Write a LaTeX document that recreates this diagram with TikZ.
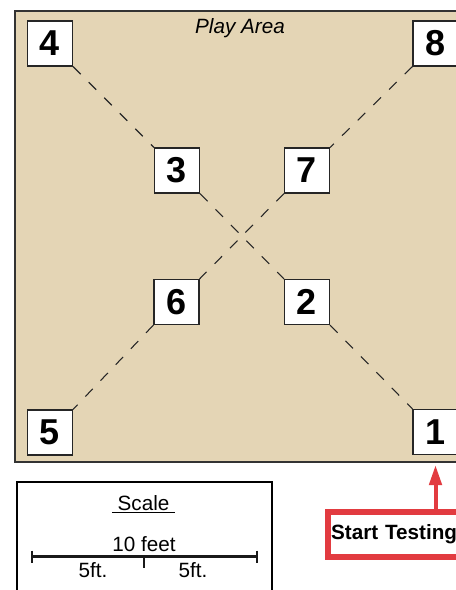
\documentclass[tikz,border=0pt]{standalone}
\usepackage{fontspec}
\setmainfont{Liberation Sans}
\usetikzlibrary{arrows.meta}
\definecolor{sand}{HTML}{E4D5B5}
\definecolor{startred}{HTML}{E23B40}

\begin{document}
\begin{tikzpicture}[
    x=0.75pt, y=-0.75pt,
    area/.style={draw=black!80, fill=sand, line width=0.9pt},
    spot/.style={rectangle, draw=black!85, fill=white, line width=0.9pt,
                 minimum size=33.75pt, inner sep=0pt,
                 font=\fontsize{27}{27}\selectfont\bfseries},
    walk/.style={dash pattern=on 8pt off 8.5pt, line width=0.8pt, black!85},
    caption/.style={font=\fontsize{15.5}{18}\selectfont, inner sep=1pt},
    bar/.style={line width=2.2pt, black!90},
    starter/.style={rectangle, draw=startred, line width=4.25pt, fill=white,
                    text width=112pt, align=left, inner xsep=2.5pt,
                    minimum height=33.75pt, font=\fontsize{15.5}{20}\selectfont\bfseries},
    arrow/.style={-{Triangle[length=15pt, width=9.2pt]}, line width=3pt, startred}
  ]
    \useasboundingbox (0,0) rectangle (456,590);
    \clip (0,0) rectangle (456,590);
    \path[area] (15,11) rectangle (480,462);
    \node[caption, font=\fontsize{15.5}{18}\selectfont\itshape] (title) at (240,28) {Play Area};
    \node[spot] (p4) at (50,43.5) {4};
    \node[spot] (p3) at (177,170.5) {3};
    \node[spot] (p8) at (435.5,43.5) {8};
    \node[spot] (p7) at (307,170.5) {7};
    \node[spot] (p6) at (176.5,302) {6};
    \node[spot] (p2) at (307,302) {2};
    \node[spot] (p5) at (50,432.5) {5};
    \node[spot] (p1) at (435.5,432) {1};
    \draw[walk] (p4.south east) -- (p3.north west);
    \draw[walk] (p3.south east) -- (p2.north west);
    \draw[walk] (p2.south east) -- (p1.north west);
    \draw[walk] (p8.south west) -- (p7.north east);
    \draw[walk] (p7.south west) -- (p6.north east);
    \draw[walk] (p6.south west) -- (p5.north east);
    \draw[line width=2.2pt] (17,482) rectangle (272,610);
    \node[caption] (scale) at (143.5,504) {\underline{\ Scale\ }};
    \node[caption] (ten) at (144,544) {10 feet};
    \coordinate (barL) at (32,556.5);
    \coordinate (barM) at (144,556.5);
    \coordinate (barR) at (257,556.5);
    \draw[bar] (barL) -- (barR);
    \draw[bar] (32,550.5) -- (32,562.5);
    \draw[bar] (257,550.5) -- (257,562.5);
    \draw[bar] (barM) -- (144,568);
    \node[caption] (half1) at (93,570.5) {5ft.};
    \node[caption] (half2) at (193,570.5) {5ft.};
    \node[starter, anchor=west] (start) at (325,534.5) {Start Testing};
    \draw[arrow, shorten >=7.5pt] (start.north -| p1.south) -- (p1.south);
\end{tikzpicture}
\end{document}
